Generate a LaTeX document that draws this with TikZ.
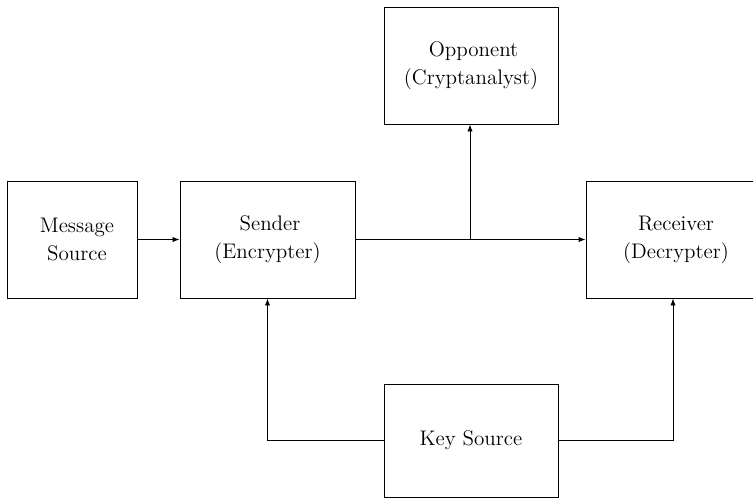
\documentclass[tikz,border=0pt]{standalone}
\usepackage{tikz}
\usetikzlibrary{positioning, arrows.meta}
\tikzset{
    x=0.02cm, y=-0.02cm, % one unit is one pixel of the layout
    block/.style={draw, line width=0.5pt, align=center, font=\large, minimum height=2.34cm}, % the boxes
    link/.style={line width=0.5pt, -{Latex[length=4pt, width=3pt]}}, % the connectors
}
\begin{document}
\begin{tikzpicture}
    \useasboundingbox (0,0) rectangle (753,498);
    \node[block, minimum width=2.6cm] (msg) at (72,239.5) {\hspace{0.2cm}Message\\[2pt]\hspace{0.2cm}Source};
    \node[block, minimum width=3.5cm] (sender) at (267.5,239.5) {\hspace{0.1cm}Sender\\[2pt](Encrypter)};
    \node[block, minimum width=3.48cm] (opp) at (471,65.5) {\hspace{0.1cm}Opponent\\[2pt](Cryptanalyst)};
    \node[block, minimum width=3.6cm] (recv) at (676,239.5) {Receiver\\[2pt](Decrypter)};
    \node[block, minimum width=3.48cm, minimum height=2.26cm] (key) at (471,440.5) {Key Source};
    \coordinate (split) at (470,239.5);
    \draw[link] (msg) -- (sender);
    \draw[link] (sender) -- (recv);
    \draw[link] (split) -- (split |- opp.south);
    \draw[link] (key.west) -| (sender.south);
    \draw[link] (key.east) -| ([xshift=-0.06cm]recv.south);
\end{tikzpicture}
\end{document}
